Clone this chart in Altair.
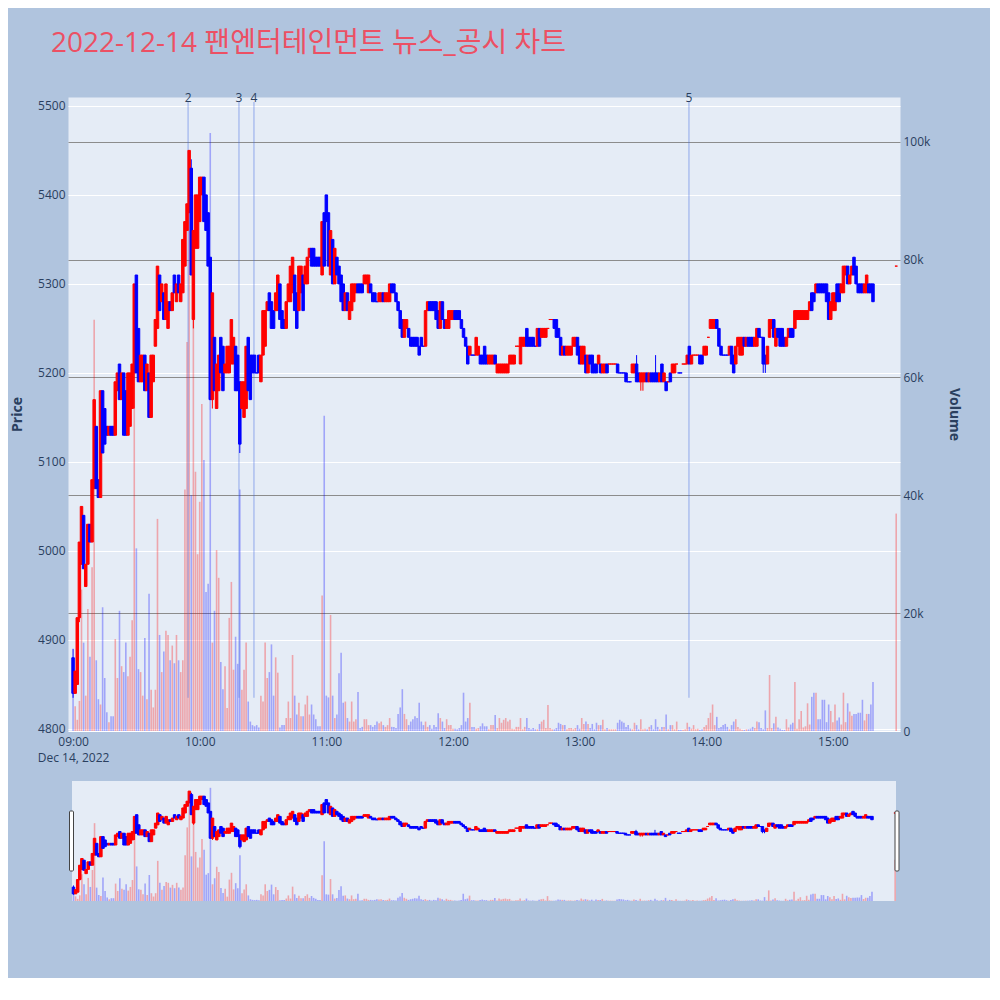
import altair as alt
import pandas as pd

TITLE = "2022-12-14 팬엔터테인먼트 뉴스_공시 차트"
DATE_LABEL = "Dec 14, 2022"

# (open, close) per minute, one list per trading hour
candles_09 = [
    (4880, 4840), (4840, 4865), (4850, 4925), (4925, 5010), (4985, 5050), (5040, 4980), (4960, 4985), (4985, 5030), (5030, 5010), (5010, 5080),
    (5070, 5170), (5140, 5070), (5080, 5060), (5060, 5180), (5180, 5110), (5160, 5120), (5140, 5130), (5130, 5140), (5140, 5130), (5140, 5130),
    (5130, 5190), (5180, 5200), (5210, 5170), (5170, 5200), (5200, 5130), (5180, 5130), (5130, 5200), (5140, 5200), (5160, 5210), (5200, 5300),
    (5310, 5200), (5250, 5190), (5190, 5220), (5190, 5220), (5220, 5180), (5180, 5210), (5200, 5150), (5150, 5220), (5190, 5220), (5230, 5260),
    (5250, 5320), (5310, 5270), (5280, 5300), (5290, 5260), (5260, 5300), (5250, 5280), (5280, 5270), (5270, 5290), (5310, 5290), (5280, 5300),
    (5310, 5290), (5280, 5300), (5290, 5350), (5320, 5370), (5360, 5390), (5380, 5450), (5430, 5310), (5260, 5360), (5340, 5400), (5340, 5400),
]
candles_10 = [
    (5370, 5420), (5400, 5420), (5420, 5370), (5400, 5360), (5380, 5320), (5330, 5170), (5170, 5290), (5240, 5180), (5160, 5210), (5180, 5220),
    (5240, 5200), (5230, 5180), (5200, 5210), (5200, 5230), (5200, 5230), (5210, 5260), (5210, 5240), (5230, 5180), (5220, 5180), (5190, 5120),
    (5160, 5190), (5150, 5190), (5160, 5230), (5240, 5180), (5220, 5170), (5220, 5200), (5220, 5200), (5200, 5200), (5220, 5200), (5190, 5220),
    (5220, 5270), (5230, 5270), (5270, 5280), (5290, 5270), (5280, 5250), (5270, 5250), (5270, 5290), (5270, 5310), (5300, 5260), (5270, 5250),
    (5260, 5250), (5250, 5280), (5280, 5300), (5280, 5320), (5290, 5330), (5310, 5270), (5290, 5250), (5270, 5320), (5290, 5320), (5310, 5270),
    (5300, 5320), (5300, 5330), (5330, 5340), (5340, 5320), (5340, 5320), (5330, 5320), (5330, 5320), (5330, 5320), (5310, 5370), (5380, 5320),
]
candles_11 = [
    (5400, 5370), (5380, 5320), (5310, 5360), (5350, 5300), (5300, 5340), (5330, 5310), (5320, 5300), (5310, 5280), (5300, 5270), (5270, 5290),
    (5290, 5270), (5260, 5280), (5270, 5300), (5280, 5300), (5290, 5300), (5300, 5290), (5300, 5290), (5300, 5290), (5300, 5310), (5300, 5310),
    (5290, 5310), (5300, 5290), (5290, 5280), (5290, 5280), (5280, 5280), (5280, 5290), (5280, 5290), (5290, 5280), (5280, 5290), (5280, 5290),
    (5280, 5300), (5300, 5290), (5300, 5290), (5290, 5280), (5280, 5270), (5270, 5250), (5260, 5240), (5240, 5260), (5250, 5260), (5250, 5240),
    (5240, 5230), (5240, 5230), (5240, 5230), (5240, 5230), (5230, 5220), (5240, 5230), (5230, 5230), (5230, 5270), (5270, 5280), (5280, 5270),
    (5280, 5270), (5280, 5270), (5280, 5260), (5270, 5250), (5250, 5280), (5280, 5260), (5260, 5250), (5250, 5260), (5250, 5270), (5260, 5270),
]
candles_12 = [
    (5260, 5270), (5270, 5260), (5270, 5260), (5270, 5260), (5260, 5250), (5250, 5240), (5240, 5230), (5230, 5210), (5220, 5230), (5220, 5220),
    (5220, 5220), (5220, 5240), (5220, 5230), (5220, 5210), (5220, 5210), (5230, 5210), (5220, 5210), (5210, 5220), (5210, 5220), (5210, 5220),
    (5220, 5210), (5200, 5210), (5200, 5210), (5200, 5210), (5200, 5210), (5200, 5210), (5200, 5210), (5210, 5220), (5210, 5220), (5210, 5220),
    (5230, 5230), (5230, 5230), (5210, 5240), (5230, 5240), (5230, 5240), (5250, 5230), (5240, 5230), (5240, 5230), (5240, 5230), (5230, 5230),
    (5230, 5250), (5250, 5230), (5240, 5250), (5240, 5250), (5240, 5250), (5250, 5250), (5260, 5260), (5260, 5260), (5260, 5250), (5260, 5240),
    (5250, 5240), (5240, 5220), (5220, 5230), (5230, 5220), (5220, 5230), (5220, 5230), (5220, 5230), (5230, 5240), (5230, 5240), (5240, 5220),
]
candles_13 = [
    (5230, 5210), (5210, 5230), (5210, 5230), (5220, 5200), (5200, 5220), (5220, 5210), (5220, 5200), (5210, 5200), (5210, 5200), (5210, 5220),
    (5210, 5200), (5200, 5210), (5200, 5210), (5210, 5200), (5210, 5210), (5210, 5210), (5210, 5210), (5210, 5210), (5210, 5200), (5200, 5200),
    (5200, 5200), (5200, 5200), (5200, 5190), (5190, 5190), (5190, 5190), (5200, 5210), (5200, 5210), (5210, 5190), (5200, 5190), (5190, 5200),
    (5190, 5200), (5190, 5200), (5200, 5190), (5190, 5200), (5200, 5190), (5200, 5190), (5200, 5190), (5200, 5190), (5190, 5200), (5210, 5190),
    (5190, 5200), (5190, 5180), (5190, 5190), (5200, 5190), (5200, 5210), (5200, 5210), (5210, 5210), (5200, 5200), (5200, 5200), (5210, 5210),
    (5210, 5210), (5210, 5220), (5230, 5210), (5210, 5220), (5220, 5220), (5220, 5220), (5220, 5220), (5220, 5210), (5220, 5210), (5220, 5230),
]
candles_14 = [
    (5220, 5230), (5240, 5240), (5250, 5260), (5250, 5260), (5250, 5260), (5260, 5250), (5250, 5230), (5230, 5220), (5220, 5220), (5220, 5220),
    (5220, 5220), (5220, 5230), (5230, 5210), (5220, 5200), (5210, 5230), (5230, 5240), (5220, 5240), (5220, 5240), (5240, 5230), (5230, 5240),
    (5240, 5230), (5240, 5230), (5240, 5230), (5230, 5240), (5230, 5250), (5250, 5240), (5240, 5240), (5240, 5210), (5220, 5210), (5210, 5230),
    (5240, 5260), (5250, 5260), (5260, 5240), (5230, 5250), (5250, 5240), (5250, 5230), (5250, 5230), (5240, 5230), (5230, 5240), (5240, 5250),
    (5250, 5240), (5250, 5240), (5250, 5270), (5260, 5270), (5260, 5270), (5260, 5270), (5260, 5270), (5260, 5270), (5260, 5270), (5270, 5280),
    (5290, 5270), (5290, 5280), (5290, 5300), (5300, 5290), (5300, 5290), (5300, 5290), (5300, 5290), (5300, 5280), (5290, 5260), (5260, 5280),
]
candles_15 = [
    (5270, 5290), (5270, 5290), (5300, 5280), (5300, 5280), (5290, 5300), (5290, 5320), (5310, 5320), (5320, 5300), (5300, 5310), (5310, 5320),
    (5330, 5310), (5320, 5300), (5300, 5290), (5300, 5290), (5300, 5290), (5290, 5300), (5290, 5310), (5300, 5290), (5300, 5290), (5300, 5280),
]

# volume per minute, thousands of shares
volume_09 = [
    7.8, 4.2, 1.9, 5.1, 24, 15, 6, 20.7, 12.6, 27.8,
    69.8, 12, 5.4, 4.5, 21, 9, 3.2, 1.5, 2.5, 2.5,
    15.6, 9, 20.4, 11, 10, 15, 9.3, 12.6, 18.8, 69.4,
    31, 10.5, 10, 6, 15.8, 5.4, 23.3, 7, 4, 7,
    36, 16.3, 10, 13.5, 17, 16.3, 12, 14.5, 11.5, 16.3,
    12, 10, 12, 41, 66, 96, 40, 76, 44, 30,
]
volume_10 = [
    38.9, 55.5, 46, 23.6, 25, 101.5, 15, 20.4, 30.7, 26,
    11.7, 7.1, 11, 3.9, 19.2, 25.3, 10.4, 16, 11.4, 41,
    7, 10.4, 15, 5, 1.6, 1, 0.8, 1, 0.6, 6,
    5, 15, 9, 10, 14.7, 6, 12.5, 9.9, 0.6, 1,
    1, 2.2, 5, 2.2, 12.9, 6, 2.8, 4.8, 2.5, 2.5,
    4.5, 6, 2.8, 4.5, 2.8, 2, 0.8, 0.8, 23, 53.5,
]
volume_11 = [
    6, 5.7, 19.7, 6, 2.2, 2.8, 9.8, 13.3, 4.8, 5,
    2.2, 1.6, 5, 1.6, 2, 6.6, 0.5, 0.7, 2, 2,
    1, 1, 0.7, 1, 1.6, 1.3, 1.6, 1, 0.7, 1,
    2.2, 0.7, 0.7, 0.5, 2.9, 4, 7.1, 2.9, 2, 1,
    1.6, 2, 2.5, 2.2, 4.8, 1.6, 1, 1.6, 0.7, 1,
    0.4, 1, 0.7, 3, 2.2, 1.6, 0.5, 2, 1, 1,
]
volume_12 = [
    0.4, 0.4, 0.3, 0.5, 1, 6.5, 1.6, 2.2, 4.8, 0.7,
    0.7, 0.4, 0.5, 0.8, 1.3, 0.8, 0.8, 0.3, 1, 1,
    2.7, 0.5, 2.2, 1.4, 1.9, 2.2, 1.6, 1.9, 0.4, 0.3,
    0.7, 0.7, 2.2, 0.3, 0.7, 2.2, 0.5, 0.3, 0.5, 0.3,
    0.3, 1.2, 1.6, 1.9, 0.5, 4.4, 0.5, 0.3, 0.3, 0.5,
    1.4, 1.2, 1, 1, 0.3, 0.5, 0.5, 0.3, 0.5, 1,
]
volume_13 = [
    0.4, 2.2, 1.2, 1.6, 1.2, 0.5, 1.2, 0.3, 1.4, 1,
    1, 1.9, 0.3, 0.5, 0.3, 0.3, 0.3, 0.3, 1.4, 1.9,
    1.6, 1.4, 0.7, 1, 0.4, 0.3, 1.4, 1, 0.3, 2,
    0.3, 0.4, 0.3, 0.7, 1, 0.3, 2, 0.7, 0.3, 0.7,
    0.7, 2.8, 0.3, 1, 1, 0.3, 1.6, 0.2, 0.2, 0.2,
    0.3, 1.4, 0.7, 0.4, 1, 0.3, 0.4, 0.2, 0.3, 0.7,
]
volume_14 = [
    1, 2.2, 3.1, 4.5, 1, 2.4, 0.5, 0.7, 1, 1.2,
    0.7, 0.3, 1, 1.6, 2, 0.7, 0.4, 0.2, 0.2, 0.3,
    0.3, 0.4, 0.7, 0.5, 1.6, 1.5, 0.5, 0.3, 3.5, 0.5,
    9.5, 0.5, 1.3, 2.4, 0.6, 0.4, 0.2, 0.2, 2, 0.6,
    1.1, 1.4, 8.3, 0.4, 2, 3.4, 0.6, 0.8, 4.7, 1.1,
    5.8, 6.5, 6.5, 2, 2, 5.3, 5.3, 1.5, 4.5, 3.4,
]
volume_15 = [
    1.5, 4.5, 1.8, 2.3, 1.1, 6.5, 1.5, 4.7, 3.3, 2.6,
    2.9, 2.9, 3.1, 3.1, 5.3, 1.8, 2.9, 2.9, 4.5, 8.3,
]

# wick extremes beyond the body (minute index -> price)
wick_high = {0: 4890, 56: 5440, 267: 5220, 276: 5220}
wick_low = {0: 4835, 3: 4920, 29: 5160, 57: 5250, 66: 5160, 79: 5110,
            269: 5180, 270: 5180, 327: 5200, 328: 5200}

# closing auction at 15:30
closing_minute = 390
closing_price = 5320
closing_volume = 36.9

news_times = ["09:54:30", "10:18:36", "10:25:42", "13:51:48"]
news_labels = ["2", "3", "4", "5"]
news_floor = 4835

price_ticks = [4800, 4900, 5000, 5100, 5200, 5300, 5400, 5500]
volume_ticks = [0, 20, 40, 60, 80, 100]
hour_ticks = [0, 60, 120, 180, 240, 300, 360]

UP = "#FF0000"
DOWN = "#0000FF"
TEXT = "#2a3f5f"
FONT = "Open Sans"

# ---------------- build tables ----------------
candles = candles_09 + candles_10 + candles_11 + candles_12 + candles_13 + candles_14 + candles_15
volumes = volume_09 + volume_10 + volume_11 + volume_12 + volume_13 + volume_14 + volume_15
series = [(m, o, c, v) for m, ((o, c), v) in enumerate(zip(candles, volumes))]
series.append((closing_minute, closing_price, closing_price, closing_volume))

rows = []
prev_close, prev_dir = None, "down"
for m, o, c, v in series:
    if c > o:
        d = "up"
    elif c < o:
        d = "down"
    elif prev_close is not None and c > prev_close:
        d = "up"
    elif prev_close is not None and c < prev_close:
        d = "down"
    else:
        d = prev_dir
    h = max(o, c, wick_high.get(m, o))
    l = min(o, c, wick_low.get(m, o))
    rows.append({"m": m, "o": o, "c": c, "h": h, "l": l, "v": v, "d": d})
    prev_close, prev_dir = c, d
df = pd.DataFrame(rows)


def to_minutes(t):
    hh, mm, ss = (int(p) for p in t.split(":"))
    return (hh - 9) * 60 + mm + ss / 60.0


news_df = pd.DataFrame({
    "nm": [to_minutes(t) for t in news_times],
    "label": news_labels,
    "floor": [news_floor] * len(news_times),
})
title_df = pd.DataFrame({"t": [TITLE]})
one_df = pd.DataFrame({"k": [0]})

# ---------------- scales / axes ----------------
price_domain = [4797.7, 5510.0]
vol_domain = [0, 107.6]
x_domain = [-2.4, 391.8]
color_scale = alt.Scale(domain=["up", "down"], range=[UP, DOWN])
color_enc = alt.Color("d:N", scale=color_scale, legend=None)
stroke_enc = alt.Stroke("d:N", scale=color_scale, legend=None)

hour_expr = ("datum.value == 0 ? ['09:00', '" + DATE_LABEL + "'] : "
             "((9 + datum.value / 60) < 10 ? '0' : '') + (9 + datum.value / 60) + ':00'")
x_axis = alt.Axis(values=hour_ticks, labelExpr=hour_expr, grid=False, domain=False,
                  ticks=False, tickSize=0, labelPadding=5, labelLineHeight=16,
                  labelFontSize=12, labelColor=TEXT, labelFont=FONT, labelFlush=False,
                  title=None)
x_scale = alt.Scale(domain=x_domain, nice=False, zero=False, padding=0)
x_main = alt.X("m:Q", scale=x_scale, axis=x_axis)
xn_main = alt.X("nm:Q", scale=x_scale, axis=x_axis)

price_scale = alt.Scale(domain=price_domain, nice=False, zero=False)
price_axis = alt.Axis(values=price_ticks, orient="left", grid=True, gridColor="white",
                      gridWidth=1, domain=False, ticks=False, tickSize=0, labelPadding=3,
                      labelFontSize=12, labelColor=TEXT, labelFont=FONT, format="d",
                      title="Price", titleFontSize=14, titleFontWeight="bold",
                      titleColor=TEXT, titleFont=FONT, titlePadding=13)
vol_scale = alt.Scale(domain=vol_domain, nice=False)
vol_axis = alt.Axis(values=volume_ticks, orient="right", grid=True,
                    gridColor={"condition": {"test": "datum.value === 0", "value": "white"},
                               "value": "#8c8c8c"},
                    gridWidth=1, domain=False, ticks=False, tickSize=0, labelPadding=3,
                    labelExpr="datum.value == 0 ? '0' : datum.value + 'k'",
                    labelFontSize=12, labelColor=TEXT, labelFont=FONT,
                    title="Volume", titleFontSize=14, titleFontWeight="bold",
                    titleColor=TEXT, titleFont=FONT, titlePadding=17)

# ---------------- main panel ----------------
base = alt.Chart(df)
vol_main = base.mark_bar(size=1.6, opacity=0.3).encode(
    x=x_main, y=alt.Y("v:Q", scale=vol_scale, axis=vol_axis), color=color_enc)
wick_main = base.mark_rule(strokeWidth=1).encode(
    x=x_main, y=alt.Y("l:Q", scale=price_scale, axis=price_axis), y2="h:Q", color=color_enc)
body_main = base.mark_bar(size=2.5, strokeWidth=1).encode(
    x=x_main, y=alt.Y("o:Q", scale=price_scale, axis=price_axis), y2="c:Q",
    color=color_enc, stroke=stroke_enc)
news_rule = alt.Chart(news_df).mark_rule(color="#4169E1", opacity=0.35, strokeWidth=1.5).encode(
    x=xn_main, y=alt.Y("floor:Q", scale=price_scale, axis=price_axis), y2=alt.value(5))
news_text = alt.Chart(news_df).mark_text(baseline="alphabetic", fontSize=12, color=TEXT, font=FONT).encode(
    x=xn_main, y=alt.value(5), text="label:N")
title_text = alt.Chart(title_df).mark_text(
    align="left", baseline="alphabetic", fontSize=28, color="#EC5064",
    font="'Open Sans', 'Noto Sans CJK KR', sans-serif").encode(
    x=alt.value(-17), y=alt.value(-45), text="t:N")

price_group = alt.layer(news_rule, wick_main, body_main, news_text, title_text)
main = alt.layer(vol_main, price_group).resolve_scale(y="independent").properties(
    width=832, height=634,
    view=alt.ViewBackground(fill="#E5ECF6", stroke="transparent"))

# ---------------- range slider ----------------
x_slider = alt.X("m:Q", scale=alt.Scale(domain=[-0.7, 390.4], range=[4, 828], nice=False,
                                        zero=False, padding=0), axis=None)
p_slider = alt.Scale(domain=price_domain, nice=False, zero=False)
v_slider = alt.Scale(domain=vol_domain, nice=False)

slider_bg = alt.Chart(one_df).mark_rect(color="#E5ECF6").encode(
    x=alt.value(4), x2=alt.value(828), y=alt.value(0), y2=alt.value(120))
vol_s = base.mark_bar(size=1.6, opacity=0.3).encode(
    x=x_slider, y=alt.Y("v:Q", scale=v_slider, axis=None), color=color_enc)
wick_s = base.mark_rule(strokeWidth=1).encode(
    x=x_slider, y=alt.Y("l:Q", scale=p_slider, axis=None), y2="h:Q", color=color_enc)
body_s = base.mark_bar(size=2.5, strokeWidth=1).encode(
    x=x_slider, y=alt.Y("o:Q", scale=p_slider, axis=None), y2="c:Q",
    color=color_enc, stroke=stroke_enc)
handle_l = alt.Chart(one_df).mark_rect(fill="white", stroke="#444", strokeWidth=1, cornerRadius=1).encode(
    x=alt.value(1.5), x2=alt.value(5.5), y=alt.value(30), y2=alt.value(90))
handle_r = alt.Chart(one_df).mark_rect(fill="white", stroke="#444", strokeWidth=1, cornerRadius=1).encode(
    x=alt.value(827), x2=alt.value(831), y=alt.value(30), y2=alt.value(90))

slider_price = alt.layer(wick_s, body_s)
slider = alt.layer(slider_bg, vol_s, slider_price, handle_l, handle_r).resolve_scale(
    y="independent").properties(width=832, height=120,
                                view=alt.ViewBackground(stroke="transparent"))

chart = alt.vconcat(main, slider, spacing=50, bounds="flush").properties(
    background="#B0C4DE",
    padding={"left": 2, "top": 21, "right": 28, "bottom": 76},
).configure_view(stroke="transparent").configure(font=FONT)

chart.save("out.html", embed_options={"renderer": "svg", "actions": False})
